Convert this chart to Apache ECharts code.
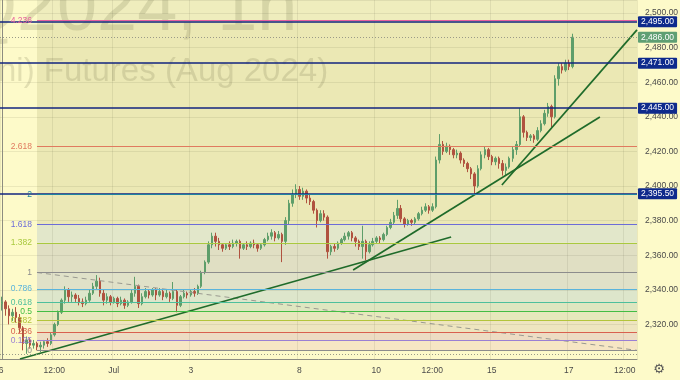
<!DOCTYPE html>
<html><head><meta charset="utf-8">
<script src="https://cdn.jsdelivr.net/npm/echarts@6/dist/echarts.min.js"></script>
<style>html,body{margin:0;padding:0;background:#fdfac9}#c{width:680px;height:380px}</style>
</head><body><div id="c"></div>
<script>
// ---- data ----
const slotCount = 182;
const tickLabels = {0:'26',15:'12:00',32:'Jul',54:'3',85:'8',107:'10',123:'12:00',140:'15',162:'17',178:'12:00'};
// [open, close, low, high]
const candles = [
[2332,2333,2328,2336],[2333,2329,2325,2334],[2329,2325,2320,2331],[2325,2327,2322,2329],[2327,2324,2321,2330],
[2324,2318,2315,2326],[2318,2309,2305,2319],[2309,2311,2303,2313],[2311,2308,2306,2312],[2308,2309,2306,2311],
[2309,2307,2305,2310],[2307,2308,2304,2310],[2308,2310,2306,2311],[2310,2309,2307,2312],[2309,2314,2308,2315],
[2314,2320,2313,2321],[2320,2327,2319,2328],[2327,2334,2326,2335],[2334,2340,2332,2342],[2340,2336,2333,2341],
[2336,2337,2333,2339],[2337,2335,2333,2338],[2335,2333,2331,2337],[2333,2332,2330,2335],[2332,2334,2331,2336],
[2334,2338,2333,2340],[2338,2342,2337,2344],[2342,2345,2340,2348.5],[2345,2338,2336,2347],[2338,2334,2331,2340],
[2334,2336,2332,2338],[2336,2333,2331,2337],[2333,2335,2332,2336],[2335,2332,2330,2336],[2332,2334,2331,2336],
[2334,2331,2329,2335],[2331,2333,2330,2334],[2333,2338,2332,2340],[2338,2342,2336,2347.5],[2342,2332,2329.5,2343],
[2332,2336,2331,2338],[2336,2339,2335,2341],[2339,2337,2335,2340],[2337,2340,2336,2341],[2340,2337,2334,2341],
[2337,2339,2336,2341],[2339,2336,2334,2340],[2336,2338,2335,2340],[2338,2335,2333,2339],[2335,2339,2334,2344.5],
[2339,2331,2327,2340],[2331,2336,2330,2337],[2336,2338,2335,2340],[2338,2337,2335,2339],[2337,2339,2336,2340],
[2339,2338,2336,2341],[2338,2342,2337,2343],[2342,2350,2341,2351],[2350,2356,2349,2357],[2356,2366,2355,2368],
[2366,2371,2364,2373],[2371,2368,2365,2373],[2368,2366,2363,2370],[2366,2364,2362,2367],[2364,2366,2363,2367],
[2366,2365,2363,2368],[2365,2367,2364,2369],[2367,2368,2365,2369],[2368,2364,2358,2369],[2364,2366,2363,2367],
[2366,2365,2363,2368],[2365,2367,2364,2368],[2367,2366,2364,2369],[2366,2364,2362,2367],[2364,2366,2363,2367],
[2366,2369,2365,2370],[2369,2371,2368,2373],[2371,2373,2369,2375],[2373,2370,2368,2374],[2370,2372,2369,2374],
[2372,2368,2356,2373],[2368,2380,2366,2382],[2380,2390,2378,2392],[2390,2395,2388,2398],[2395,2398,2393,2401],
[2398,2394,2392,2400],[2394,2397,2392,2399],[2397,2393,2390,2398],[2393,2391,2389,2395],[2391,2386,2384,2392],
[2386,2380,2376,2387],[2380,2384,2379,2386],[2384,2382,2380,2386],[2382,2362,2358,2383],[2362,2365,2360,2366],
[2365,2364,2362,2367],[2364,2367,2363,2368],[2367,2369,2366,2370],[2369,2371,2368,2373],[2371,2373,2369,2374],
[2373,2370,2368,2374],[2370,2368,2365,2371],[2368,2365,2363,2369],[2365,2368,2358,2377],[2368,2362,2357,2369],
[2362,2366,2361,2368],[2366,2368,2365,2370],[2368,2370,2367,2371],[2370,2369,2367,2371],[2369,2372,2368,2373],
[2372,2376,2371,2377],[2376,2379,2375,2381],[2379,2383,2378,2385],[2383,2387,2381,2392],[2387,2381,2379,2389],
[2381,2378,2376,2382],[2378,2380,2377,2381],[2380,2379,2377,2381],[2379,2381,2378,2382],[2381,2384,2380,2385],
[2384,2386,2383,2388],[2386,2388,2385,2390],[2388,2386,2384,2389],[2386,2388,2385,2390],[2388,2415,2387,2417],
[2415,2424,2413,2430],[2424,2420,2418,2426],[2420,2423,2419,2425],[2423,2421,2418,2424],[2421,2418,2416,2422],
[2418,2419,2416,2421],[2419,2415,2413,2420],[2415,2413,2411,2416],[2413,2410,2408,2414],[2410,2407,2404,2411],
[2407,2400,2395.5,2408],[2400,2410,2399,2412],[2410,2418,2409,2420],[2418,2421,2416,2423],[2421,2417,2415,2422],
[2417,2414,2412,2418],[2414,2416,2412,2417],[2416,2413,2410,2417],[2413,2409,2406,2415],[2409,2411,2406,2413],
[2411,2416,2410,2417],[2416,2421,2414,2423],[2421,2424,2418,2426],[2424,2440,2423,2445],[2440,2431,2428,2441],
[2431,2428,2426,2432],[2428,2429,2426,2430],[2429,2427,2425,2430],[2427,2432,2426,2434],[2432,2436,2431,2438],
[2436,2442,2435,2444],[2442,2446,2440,2448],[2446,2440,2434,2447],[2440,2462,2439,2464],[2462,2469,2458,2471],
[2469,2467,2465,2471],[2467,2471,2466,2473],[2471,2469,2467,2473],[2469,2486,2468,2488]
];
const fibLevels = [0,0.125,0.236,0.382,0.5,0.618,0.786,1,1.382,1.618,2,2.618,4.236];
const fibLow = 2305, fibHigh = 2350;
const fibStartIdx = 10.07, endIdx = 181.5;
const fibColors = ['#8c8c8c','#9a7fd4','#d9604f','#b3c43a','#43bd43','#4dbf9c','#5ab4dc','#8c8c8c','#a9c93f','#6c6cd8','#1f82a0','#e07a5f','#e8609e'];
const fibBandColors = ['#f6e6c4','#eddcc3','#eee5bf','#e6e8bc','#dee6c0','#dde6cb','#e0e1c8','#e0dfc3','#e2e7ca','#ebe8b6','#ebe8b4','#ebe8b4'];
const fibTopColor = '#efedbd';
const priceLevels = [2495, 2471, 2445, 2395.5];
const lastPrice = 2486;
const lowerDotted = 2302.9;
const trendLines = [
  [[5.2,2300.0],[128.4,2370.5]],
  [[100.4,2351.4],[170.9,2439.9]],
  [[142.9,2400.6],[181.5,2490.2]]
];
const fibTrend = [[fibStartIdx,2350],[endIdx,2305]];
const yMin = 2300, yMax = 2507.5, yStep = 20;

// ---- helpers ----
function fmt(v){const s=v.toFixed(2);const p=s.split('.');return p[0].replace(/\B(?=(\d{3})+(?!\d))/g,',')+'.'+p[1];}
const categories = Array.from({length:slotCount},(_,i)=>'s'+i);
const FONT = 'Liberation Sans, Arial, sans-serif';
const gridColor = 'rgba(60,60,30,0.09)';
const fibPrice = l => fibLow + l*(fibHigh-fibLow);

const bandData = [];
for (let k=0;k<fibLevels.length-1;k++){
  bandData.push([{coord:[fibStartIdx,fibPrice(fibLevels[k])],itemStyle:{color:fibBandColors[k]}},{coord:[endIdx,fibPrice(fibLevels[k+1])]}]);
}
bandData.push([{coord:[fibStartIdx,fibPrice(fibLevels[fibLevels.length-1])],itemStyle:{color:fibTopColor}},{coord:[endIdx,yMax]}]);

const fibLines = fibLevels.map((l,k)=>[
  {coord:[fibStartIdx,fibPrice(l)],lineStyle:{color:fibColors[k],width:1.2,type:'solid'},
   label:{show:true,position:'start',distance:5,formatter:String(l),color:fibColors[k],fontSize:8.5,fontFamily:FONT}},
  {coord:[endIdx,fibPrice(l)]}
]);

const badge = (bg)=>({show:true,position:'end',distance:1,backgroundColor:bg,color:'#fff',fontSize:8.5,fontFamily:FONT,padding:[1,3,1,3],borderRadius:1});
const levelLines = priceLevels.map(p=>[
  {coord:[-0.5,p],lineStyle:{color:'#12247f',width:1.5,type:'solid'},label:Object.assign(badge('#0e2a8c'),{formatter:fmt(p)})},
  {coord:[endIdx,p]}
]);
levelLines.push([
  {coord:[-0.5,lastPrice],lineStyle:{color:'#9a9a88',width:1,type:[1,2]},label:Object.assign(badge('#5f9f73'),{formatter:fmt(lastPrice)})},
  {coord:[endIdx,lastPrice]}
]);
levelLines.push([
  {coord:[-0.5,lowerDotted],lineStyle:{color:'#9a9a88',width:1,type:[1,2]},label:{show:false}},
  {coord:[endIdx,lowerDotted]}
]);

const chart = echarts.init(document.getElementById('c'));
const tickShown = (i)=>tickLabels[i]!==undefined;
chart.setOption({
  animation:false,
  backgroundColor:'#fdfac9',
  grid:{left:0,right:43,top:0,bottom:21,containLabel:false,outerBoundsMode:'none'},
  xAxis:[{
    type:'category',data:categories,boundaryGap:true,z:1,
    axisLine:{show:true,lineStyle:{color:'#8c8c80',width:1}},
    axisTick:{show:false},
    axisLabel:{interval:tickShown,color:'#4a4a4a',fontSize:8.5,fontFamily:FONT,margin:7,hideOverlap:false,
      formatter:(v,i)=> i===0 ? '{cut|'+tickLabels[0]+'}' : (tickLabels[i]||''),
      rich:{cut:{padding:[0,6,0,0],color:'#4a4a4a',fontSize:8.5,fontFamily:FONT}}},
    splitLine:{show:true,interval:tickShown,lineStyle:{color:gridColor,width:1}}
  },{
    type:'value',min:-0.5,max:endIdx,show:false
  }],
  yAxis:{
    type:'value',position:'right',min:yMin,max:yMax,interval:yStep,z:1,
    axisLine:{show:true,lineStyle:{color:'#8c8c80',width:1}},
    axisTick:{show:false},
    axisLabel:{color:'#4a4a4a',fontSize:8.5,fontFamily:FONT,margin:8,showMinLabel:false,showMaxLabel:false,formatter:v=>fmt(v)},
    splitLine:{show:true,lineStyle:{color:gridColor,width:1}}
  },
  graphic:[
    {type:'text',x:-39,y:10,z:1,silent:true,style:{text:'Q2024, 1h',fontSize:72,fontFamily:FONT,fill:'rgba(90,90,50,0.16)',align:'left',verticalAlign:'middle'}},
    {type:'text',x:-2,y:72,z:1,silent:true,style:{text:'ni) Futures (Aug 2024)',fontSize:33,fontFamily:FONT,fill:'rgba(90,90,50,0.16)',align:'left',verticalAlign:'middle'}},
    {type:'text',x:659,y:370,z:1,silent:true,style:{text:'\u2699',fontSize:13,fontFamily:'DejaVu Sans',fill:'#555',align:'center',verticalAlign:'middle'}}
  ],
  series:[
    {type:'line',name:'bands',xAxisIndex:1,data:[[fibStartIdx,fibLow]],showSymbol:false,symbol:'none',lineStyle:{width:0},z:0,silent:true,
     markArea:{silent:true,z:0,label:{show:false},data:bandData}},
    {type:'candlestick',name:'price',xAxisIndex:0,data:candles,barWidth:2,z:3,silent:true,
     itemStyle:{color:'#5e9e6a',color0:'#b0523f',borderColor:'#5e9e6a',borderColor0:'#b0523f',borderWidth:1}},
    {type:'line',name:'levels',xAxisIndex:1,data:trendLines[2],symbol:'none',z:4,silent:true,
     lineStyle:{color:'#1f6b2a',width:1.7},
     markLine:{silent:true,symbol:['none','none'],data:levelLines}},
    {type:'line',name:'fib',xAxisIndex:1,data:fibTrend,symbol:'none',z:4,silent:true,
     lineStyle:{color:'#9a9a90',width:1,type:[5,4]},
     markLine:{silent:true,symbol:['none','none'],data:fibLines}},
    {type:'line',name:'t1',xAxisIndex:1,data:trendLines[0],symbol:'none',z:4,silent:true,lineStyle:{color:'#1f6b2a',width:1.7}},
    {type:'line',name:'t2',xAxisIndex:1,data:trendLines[1],symbol:'none',z:4,silent:true,lineStyle:{color:'#1f6b2a',width:1.7}}
  ]
});
</script></body></html>
